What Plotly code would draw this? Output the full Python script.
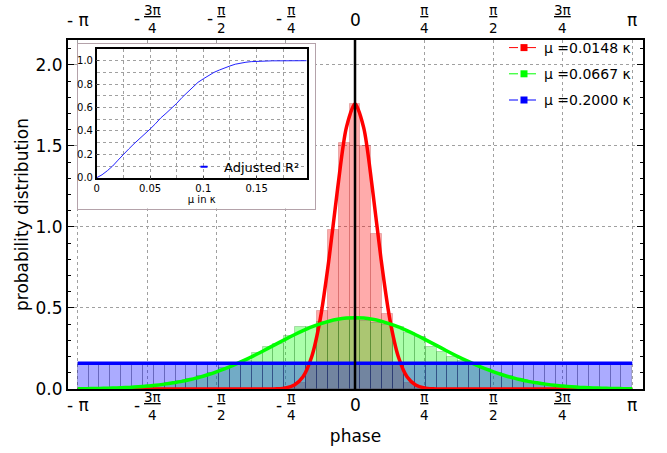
import numpy as np
import plotly.graph_objects as go

PI = np.pi

# ---------------- data ----------------
N_BINS = 51
BIN_CENTERS = -PI + (np.arange(N_BINS) + 0.5) * (2 * PI / N_BINS)

HIST_RED = [0, 0, 0, 0, 0, 0, 0, 0, 0, 0,
            0, 0, 0, 0, 0, 0, 0, 0, 0, 0.01,
            0.04, 0.16, 0.48, 0.98, 1.52, 1.76, 1.50, 0.955, 0.46, 0.16,
            0.04, 0.01, 0, 0, 0, 0, 0, 0, 0, 0,
            0, 0, 0, 0, 0, 0, 0, 0, 0, 0, 0]
HIST_GREEN = [0.002, 0.003, 0.004, 0.006, 0.010, 0.013, 0.019, 0.027, 0.034, 0.048,
              0.060, 0.081, 0.098, 0.127, 0.150, 0.170, 0.220, 0.260, 0.280, 0.330,
              0.380, 0.380, 0.415, 0.420, 0.425, 0.425, 0.420, 0.405, 0.395, 0.380,
              0.345, 0.320, 0.260, 0.230, 0.200, 0.175, 0.150, 0.125, 0.100, 0.080,
              0.062, 0.046, 0.035, 0.026, 0.019, 0.013, 0.009, 0.006, 0.004, 0.003, 0.002]
HIST_BLUE = [0.162, 0.158, 0.155, 0.150, 0.160, 0.151, 0.157, 0.163, 0.159, 0.156,
             0.161, 0.158, 0.154, 0.160, 0.157, 0.162, 0.159, 0.155, 0.161, 0.158,
             0.160, 0.156, 0.162, 0.159, 0.157, 0.160, 0.158, 0.161, 0.156, 0.159,
             0.162, 0.157, 0.160, 0.155, 0.158, 0.152, 0.153, 0.150, 0.152, 0.154,
             0.151, 0.153, 0.156, 0.152, 0.155, 0.158, 0.154, 0.157, 0.153, 0.156, 0.159]

CURVE_PHASE = np.linspace(-PI, PI, 65)
CURVE_RED = [0, 0, 0, 0, 0, 0, 0, 0, 0, 0, 0, 0, 0, 0, 0, 0, 0, 0, 0, 0, 0, 0, 0,
             0.0015, 0.007, 0.025, 0.076, 0.199, 0.436, 0.803, 1.241, 1.613,
             1.760,
             1.613, 1.241, 0.803, 0.436, 0.199, 0.076, 0.025, 0.007, 0.0015,
             0, 0, 0, 0, 0, 0, 0, 0, 0, 0, 0, 0, 0, 0, 0, 0, 0, 0, 0, 0, 0, 0, 0]
CURVE_GREEN = [0.0015, 0.0021, 0.0029, 0.0041, 0.0056, 0.0076, 0.010, 0.0135, 0.018, 0.023,
               0.030, 0.038, 0.047, 0.059, 0.072, 0.088, 0.106, 0.126, 0.148, 0.172,
               0.197, 0.224, 0.252, 0.280, 0.308, 0.335, 0.360, 0.383, 0.402, 0.418,
               0.430, 0.4376,
               0.440,
               0.4376, 0.430,
               0.418, 0.402, 0.383, 0.360, 0.335, 0.308, 0.280, 0.252, 0.224, 0.197,
               0.172, 0.148, 0.126, 0.106, 0.088, 0.072, 0.059, 0.047, 0.038, 0.030,
               0.023, 0.018, 0.0135, 0.010, 0.0076, 0.0056, 0.0041, 0.0029, 0.0021, 0.0015]
BLUE_PHASE = [-PI, PI]
CURVE_BLUE = [0.159, 0.159]

SERIES_NAMES = ["μ =0.0148 κ", "μ =0.0667 κ", "μ =0.2000 κ"]

INSET_MU = [0, 0.005, 0.01, 0.015, 0.02, 0.025, 0.03, 0.035, 0.04, 0.045,
            0.05, 0.055, 0.06, 0.065, 0.07, 0.075, 0.08, 0.085, 0.09, 0.095,
            0.1, 0.105, 0.11, 0.115, 0.12, 0.125, 0.13, 0.135, 0.14, 0.145,
            0.15, 0.155, 0.16, 0.165, 0.17, 0.175, 0.18, 0.185, 0.19, 0.197]
INSET_R2 = [0, 0.025, 0.06, 0.10, 0.15, 0.20, 0.245, 0.29, 0.33, 0.37,
            0.415, 0.46, 0.51, 0.55, 0.59, 0.635, 0.685, 0.73, 0.775, 0.815,
            0.845, 0.875, 0.90, 0.92, 0.94, 0.955, 0.97, 0.98, 0.987, 0.992,
            0.995, 0.997, 0.998, 0.999, 0.999, 1.0, 1.0, 1.0, 1.0, 1.0]

TICK_VALS = [-PI, -3 * PI / 4, -PI / 2, -PI / 4, 0, PI / 4, PI / 2, 3 * PI / 4, PI]
TICK_SIGN = ["-", "-", "-", "-", "", "", "", "", ""]
TICK_NUM = ["π", "3π", "π", "π", "0", "π", "π", "3π", "π"]
TICK_DEN = ["", "4", "2", "4", "", "4", "2", "4", ""]
GRID_VALS = [v for v in TICK_VALS if v != 0]

Y_TICKS = [0, 0.5, 1.0, 1.5, 2.0]
Y_TICKTEXT = ["0.0", "0.5", "1.0", "1.5", "2.0"]
INSET_XTICKS = [0, 0.05, 0.1, 0.15]
INSET_XTEXT = ["0", "0.05", "0.1", "0.15"]
INSET_YTICKS = [0, 0.2, 0.4, 0.6, 0.8, 1.0]
INSET_YTEXT = ["0.0", "0.2", "0.4", "0.6", "0.8", "1.0"]

# ---------------- figure ----------------
FONT = "DejaVu Sans"
fig = go.Figure()

bar_styles = [
    (HIST_RED, "rgba(255,0,0,0.33)", "rgba(170,40,40,0.25)"),
    (HIST_GREEN, "rgba(0,255,0,0.33)", "rgba(20,110,20,0.25)"),
    (HIST_BLUE, "rgba(0,0,255,0.33)", "rgba(30,30,110,0.28)"),
]
for vals, fill, edge in bar_styles:
    fig.add_trace(go.Bar(x=BIN_CENTERS, y=vals, width=2 * PI / N_BINS,
                         marker=dict(color=fill, line=dict(color=edge, width=1)),
                         showlegend=False, hoverinfo="skip"))

curve_specs = [
    (CURVE_PHASE, CURVE_RED, "#ff0000"),
    (CURVE_PHASE, CURVE_GREEN, "#00ff00"),
    (BLUE_PHASE, CURVE_BLUE, "#0000ff"),
]
for (xs, ys, col), name in zip(curve_specs, SERIES_NAMES):
    fig.add_trace(go.Scatter(x=xs, y=ys, mode="lines",
                             line=dict(color=col, width=3.5, shape="spline", smoothing=0.8),
                             showlegend=False, hoverinfo="skip"))
for (xs, ys, col), name in zip(curve_specs, SERIES_NAMES):
    fig.add_trace(go.Scatter(x=[None], y=[None], mode="lines+markers", name=name,
                             legendgroup=name,
                             line=dict(color=col, width=1, dash="dash"),
                             marker=dict(symbol="square", size=7, color=col)))

# dummy subplot for inset outer frame (white background box)
fig.add_trace(go.Scatter(x=[], y=[], xaxis="x2", yaxis="y2", showlegend=False,
                         hoverinfo="skip"))
# inset curve
fig.add_trace(go.Scatter(x=INSET_MU, y=INSET_R2, xaxis="x3", yaxis="y3", mode="lines",
                         line=dict(color="#2222ff", width=1), showlegend=False,
                         hoverinfo="skip"))
fig.add_trace(go.Scatter(x=[None], y=[None], xaxis="x3", yaxis="y3", mode="markers",
                         name="Adjusted R²", legend="legend2",
                         marker=dict(symbol="line-ew", size=5,
                                     line=dict(color="#0000ff", width=2))))

# tick label annotations (fractions)
annotations = []
for ybase, ysh_frac, ysh_single in [(0, -17, -16), (1, 21, 20)]:
    for v, s, n, d in zip(TICK_VALS, TICK_SIGN, TICK_NUM, TICK_DEN):
        if d == "":
            txt = (s + " " + n) if s else n
            annotations.append(dict(x=v, xref="x", y=ybase, yref="paper", text=txt,
                                    showarrow=False, font=dict(size=17, family=FONT),
                                    xanchor="center", yanchor="middle", yshift=ysh_single))
        else:
            wf = 8.0 * len(n)
            if s:
                total = 6 + 5 + wf
                left = -total / 2
                sx = left + 3
                fx = left + 11 + wf / 2
            else:
                sx, fx = 0, 0
            annotations.append(dict(x=v, xref="x", y=ybase, yref="paper",
                                    text="<u>" + n + "</u><br>" + d,
                                    showarrow=False, font=dict(size=13.5, family=FONT),
                                    xanchor="center", yanchor="middle",
                                    xshift=fx, yshift=ysh_frac))
            if s:
                annotations.append(dict(x=v, xref="x", y=ybase, yref="paper", text=s,
                                        showarrow=False, font=dict(size=17, family=FONT),
                                        xanchor="center", yanchor="middle",
                                        xshift=sx, yshift=ysh_frac + 1))

L, R, T, B = 68, 24, 40, 64
W, H = 667, 453
PW, PH = W - L - R, H - T - B


def dx(px):
    return (px - L) / PW


def dy(py):
    return (H - B - py) / PH


grid_col = "#a0a0a0"
fig.update_layout(
    width=W, height=H,
    margin=dict(l=L, r=R, t=T, b=B, autoexpand=False),
    paper_bgcolor="white", plot_bgcolor="white",
    barmode="overlay", bargap=0,
    font=dict(family=FONT, color="black"),
    xaxis=dict(range=[-3.252, 3.263], tickvals=GRID_VALS, showticklabels=False,
               ticks="", showgrid=True, gridcolor=grid_col, griddash="dot", gridwidth=1,
               zeroline=False, showline=True, linecolor="black", linewidth=2, mirror=True,
               title=dict(text="phase", font=dict(size=17), standoff=40)),
    yaxis=dict(range=[0, 2.154], tickvals=Y_TICKS, ticktext=Y_TICKTEXT,
               tickfont=dict(size=17), ticks="inside", ticklen=6, tickcolor="black",
               showgrid=True, gridcolor=grid_col, griddash="dot", gridwidth=1,
               zeroline=False, showline=True, linecolor="black", linewidth=2,
               mirror="ticks",
               minor=dict(dtick=0.1, ticks="inside", ticklen=3, tickcolor="black",
                          showgrid=False),
               title=dict(text="probability distribution", font=dict(size=17), standoff=3)),
    xaxis2=dict(domain=[dx(77.5), dx(315)], anchor="y2", range=[0, 1],
                showgrid=False, zeroline=False, showticklabels=False, ticks="",
                showline=True, mirror=True, linecolor="#b4a2aa", linewidth=1),
    yaxis2=dict(domain=[dy(208.5), dy(43.5)], anchor="x2", range=[0, 1],
                showgrid=False, zeroline=False, showticklabels=False, ticks="",
                showline=True, mirror=True, linecolor="#b4a2aa", linewidth=1),
    xaxis3=dict(domain=[dx(96.7), dx(306.7)], anchor="y3", range=[0, 0.197],
                tickvals=INSET_XTICKS, ticktext=INSET_XTEXT, tickfont=dict(size=10),
                ticks="inside", ticklen=3, showgrid=True, gridcolor=grid_col,
                griddash="dot", zeroline=False, showline=True, mirror=True,
                linecolor="black", linewidth=1.5,
                minor=dict(dtick=0.025, showgrid=True, gridcolor=grid_col, griddash="dot"),
                title=dict(text="μ in κ", font=dict(size=10), standoff=2)),
    yaxis3=dict(domain=[dy(178.3), dy(49)], anchor="x3", range=[-0.005, 1.1],
                tickvals=INSET_YTICKS, ticktext=INSET_YTEXT, tickfont=dict(size=10),
                ticks="inside", ticklen=3, showgrid=True, gridcolor=grid_col,
                griddash="dot", zeroline=False, showline=True, mirror=True,
                linecolor="black", linewidth=1.5,
                minor=dict(dtick=0.1, showgrid=True, gridcolor=grid_col, griddash="dot")),
    legend=dict(x=dx(636), xanchor="right", y=dy(32), yanchor="top",
                bgcolor="rgba(0,0,0,0)", font=dict(size=14), tracegroupgap=5,
                itemwidth=30),
    legend2=dict(x=dx(305), xanchor="right", y=dy(166.7), yanchor="middle",
                 bgcolor="rgba(0,0,0,0)", font=dict(size=13), itemwidth=30),
    annotations=annotations,
    shapes=[dict(type="line", xref="x", yref="paper", x0=0, x1=0, y0=0, y1=1,
                 line=dict(color="black", width=2.5), layer="above")],
)

fig.write_html("out.html")
